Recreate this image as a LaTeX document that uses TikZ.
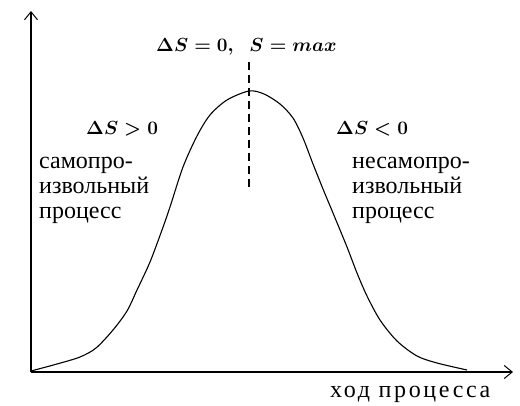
\RequirePackage{fix-cm}
\documentclass[tikz,border=0pt]{standalone}
\usepackage{fontspec}
\setmainfont{Liberation Serif}
\newfontfamily\labelfont{Liberation Serif}
\newfontfamily\axisfont[LetterSpace=11]{Liberation Serif}
\usepackage{amsmath}
\usetikzlibrary{arrows.meta, positioning}

\begin{document}
\begin{tikzpicture}[x=1pt, y=-1pt,
    axis/.style={line width=1.3pt, -{Straight Barb[length=8pt, width=13pt, line width=1pt]}},
    curve/.style={line width=1.1pt, smooth, tension=0.5},
    peakline/.style={line width=1.1pt, dash pattern=on 8pt off 5pt},
    word/.style={font=\labelfont\fontsize{24}{28}\selectfont, anchor=base west, inner sep=0pt},
    formula/.style={font=\fontsize{19}{22}\selectfont\boldmath, anchor=base west, inner sep=0pt}]
    \useasboundingbox (0,0) rectangle (520,406);
    % axes
    \coordinate (origin) at (31,372);
    \coordinate (ytop) at (31,11);
    \coordinate (xend) at (513,372);
    \draw [axis] (origin) -- (ytop);
    \draw [axis] (origin) -- (xend);
    % entropy curve
    \draw [curve] plot coordinates {(31,371) (57,364) (80,357) (96,348) (113,330) (127,311)
        (137,290) (150,262) (162,230) (170,207) (183,167) (197,136) (210,115) (227,100)
        (249,91) (264,94) (280,104) (293,118) (303,138) (313,164) (323,189) (333,213)
        (347,247) (357,273) (367,296) (380,320) (397,341) (417,356) (437,363) (467,370)};
    % maximum
    \coordinate (peaktop) at (249,62);
    \coordinate (peakbot) at (249,190);
    \draw [peakline] (peaktop) -- (peakbot);
    \node [formula] (maxlabel) at (156,52) {$\Delta S = 0,\;\; S = max$};
    % left side
    \node [formula] (posds) at (86,135) {$\Delta S > 0$};
    \node [word] (left1) at (39,169) {самопро-};
    \node [word] (left2) at (39,194) {извольный};
    \node [word] (left3) at (39,219) {процесс};
    % right side
    \node [formula] (negds) at (336,135) {$\Delta S < 0$};
    \node [word] (right1) at (352,169) {несамопро-};
    \node [word] (right2) at (352,194) {извольный};
    \node [word] (right3) at (352,219) {процесс};
    % axis label
    \node [font=\axisfont\fontsize{24}{28}\selectfont, anchor=base west, inner sep=0pt] (xlabel) at (330,398) {ход процесса};
\end{tikzpicture}
\end{document}
